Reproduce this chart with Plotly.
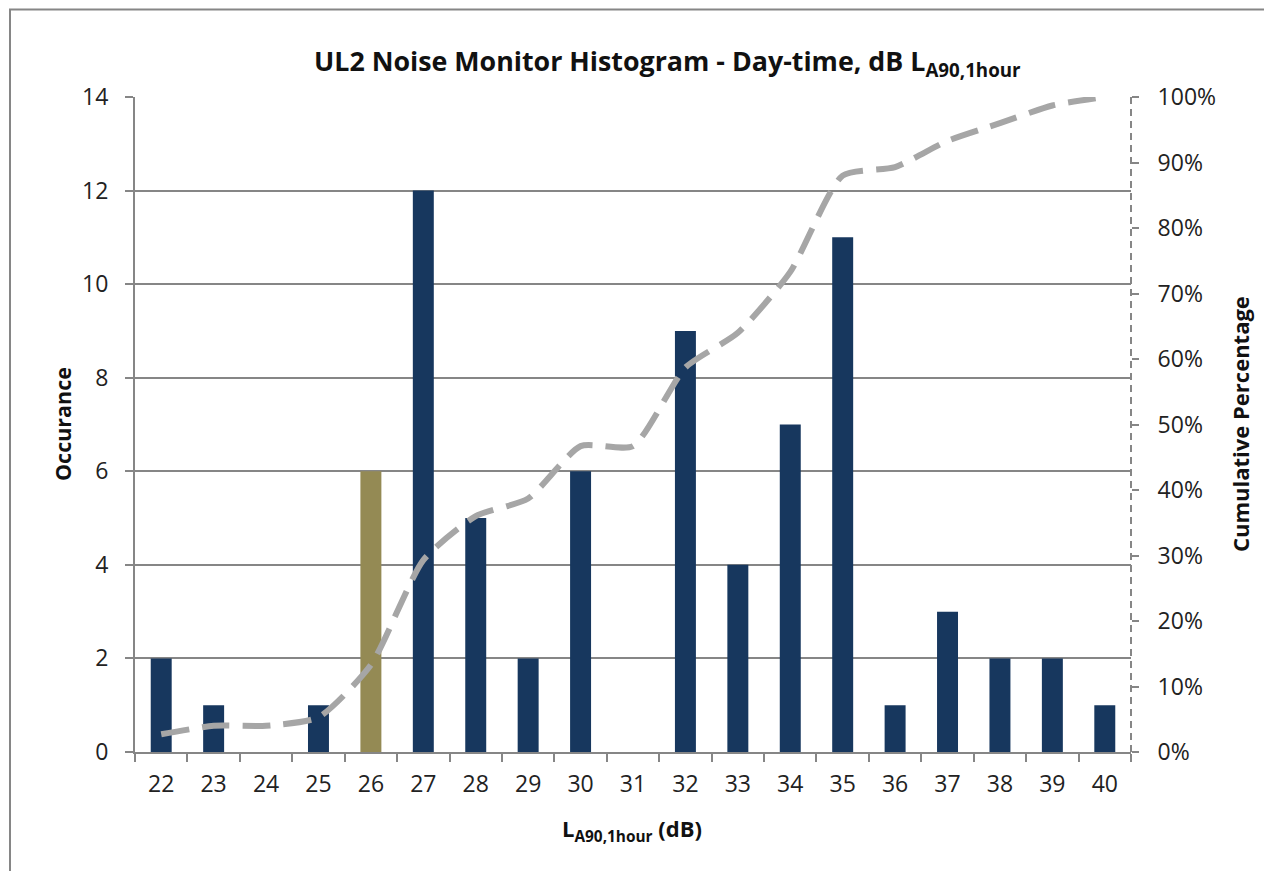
import plotly.graph_objects as go

levels = ["22", "23", "24", "25", "26", "27", "28", "29", "30", "31",
          "32", "33", "34", "35", "36", "37", "38", "39", "40"]
occurrence = [2, 1, 0, 1, 6, 12, 5, 2, 6, 0, 9, 4, 7, 11, 1, 3, 2, 2, 1]
cumulative_pct = [0.027, 0.040, 0.040, 0.053, 0.133, 0.293, 0.360, 0.387, 0.467, 0.467,
                  0.587, 0.640, 0.733, 0.880, 0.893, 0.933, 0.960, 0.987, 1.000]
highlight_level = "26"

NAVY = "#17375E"
OLIVE = "#948A54"
GREY = "#868686"
LINE_GREY = "#A6A6A6"
FONT = "Open Sans"

bar_colors = [OLIVE if c == highlight_level else NAVY for c in levels]

fig = go.Figure()
fig.add_trace(go.Bar(x=levels, y=occurrence, marker=dict(color=bar_colors, line=dict(width=0)),
                     yaxis="y", showlegend=False))
fig.add_trace(go.Scatter(x=levels, y=cumulative_pct, mode="lines", yaxis="y2",
                         line=dict(color=LINE_GREY, width=6, dash="28px,13px", shape="spline", smoothing=0.6),
                         showlegend=False))

# page body has 8px offset; work in screen coordinates
OFF = 8
W, H = 1264, 863
L, T = 135 - OFF, 97 - OFF
R = W - (1131 - OFF)
B = H - (752 - OFF)
pw, ph = W - L - R, H - T - B

def px(x):
    return (x - OFF - L) / pw

def py(y):
    return (H - B - (y - OFF)) / ph

fig.update_layout(
    width=W, height=H,
    margin=dict(l=L, r=R, t=T, b=B),
    paper_bgcolor="white", plot_bgcolor="white",
    bargap=0.6,
    font=dict(family=FONT, size=23, color="#222222"),
    xaxis=dict(type="category", tickson="boundaries", ticks="outside", ticklen=8,
               tickcolor=GREY, tickwidth=2, showline=True, linecolor=GREY, linewidth=2,
               showgrid=False, tickfont=dict(size=23), zeroline=False, ticklabelstandoff=10),
    yaxis=dict(range=[0, 14], dtick=2, ticks="outside", ticklen=8, tickcolor=GREY, tickwidth=2,
               showline=True, linecolor=GREY, linewidth=2, showgrid=True, gridcolor=GREY,
               gridwidth=2, zeroline=False, tickfont=dict(size=23), ticklabelstandoff=12),
    yaxis2=dict(range=[0, 1], dtick=0.1, tickformat=".0%", overlaying="y", side="right",
                ticks="outside", ticklen=7, tickcolor=GREY, tickwidth=2, showline=False,
                showgrid=False, zeroline=False, tickfont=dict(size=23), ticklabelstandoff=14),
    shapes=[
        dict(type="line", xref="paper", yref="paper", x0=1, x1=1, y0=0, y1=1,
             line=dict(color=GREY, width=2, dash="7px,5px")),
        dict(type="rect", xref="paper", yref="paper", x0=px(10), x1=px(1300), y0=py(900), y1=py(OFF + 1.5),
             line=dict(color=GREY, width=2)),
    ],
    annotations=[
        dict(text="<b>UL2 Noise Monitor Histogram - Day-time, dB L<sub>A90,1hour</sub></b>",
             xref="paper", yref="paper", x=px(667), y=py(62), showarrow=False,
             font=dict(size=26.8, color="#111111"), xanchor="center", yanchor="middle"),
        dict(text="<b>L<sub>A90,1hour</sub> (dB)</b>", xref="paper", yref="paper",
             x=px(632), y=py(830), showarrow=False, font=dict(size=22, color="#111111"),
             xanchor="center", yanchor="middle"),
        dict(text="<b>Occurance</b>", xref="paper", yref="paper", x=px(62), y=py(424),
             showarrow=False, textangle=-90, font=dict(size=21.5, color="#111111"),
             xanchor="center", yanchor="middle"),
        dict(text="<b>Cumulative Percentage</b>", xref="paper", yref="paper", x=px(1240), y=py(424),
             showarrow=False, textangle=-90, font=dict(size=22, color="#111111"),
             xanchor="center", yanchor="middle"),
    ],
)

fig.write_html("out.html")
